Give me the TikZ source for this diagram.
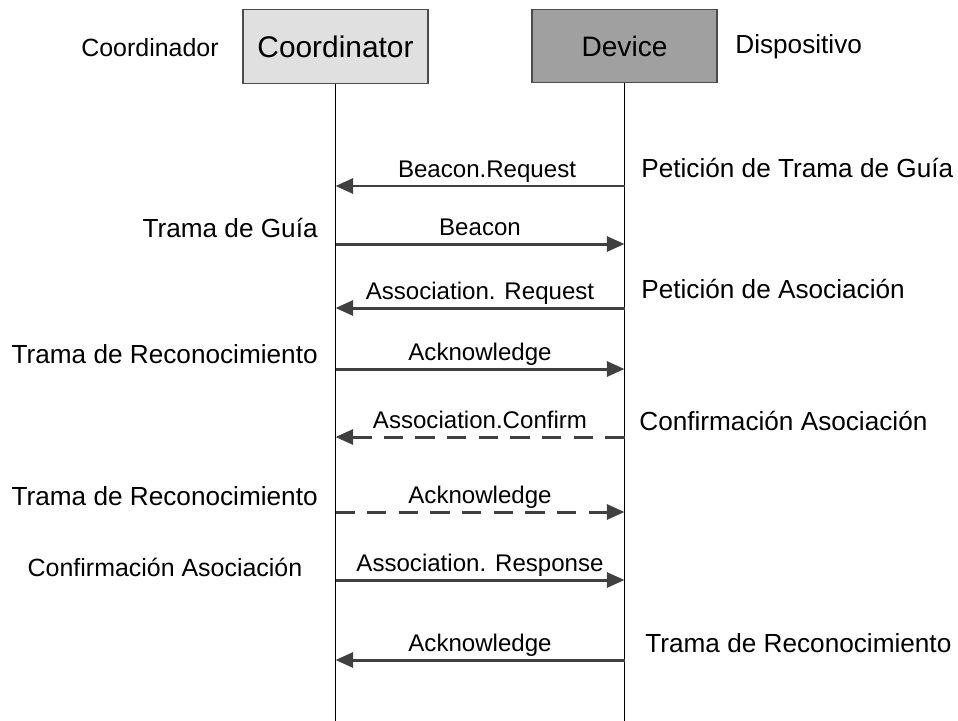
\documentclass[tikz,border=0pt]{standalone}
\usepackage{fontspec}
\setmainfont{Liberation Sans}
\usetikzlibrary{arrows.meta}

\definecolor{lightbox}{HTML}{E0E0E0}
\definecolor{darkbox}{HTML}{A0A0A0}
\definecolor{msgcol}{HTML}{404040}

\begin{document}
\begin{tikzpicture}[x=0.02cm, y=-0.02cm,
    actor/.style={draw=black!70, line width=0.8pt, minimum width=3.7cm, minimum height=1.47cm, inner sep=0pt},
    life/.style={line width=1.1pt},
    msg/.style={draw=msgcol, line width=1.7pt, -{Triangle[length=10pt, width=8.5pt]}},
    lost/.style={msg, dash pattern=on 11pt off 7pt},
    msglabel/.style={midway, anchor=base, yshift=5pt, font=\fontsize{13.7}{16}\selectfont},
    side/.style={font=\fontsize{14.9}{17}\selectfont, inner sep=0pt}]
    \useasboundingbox (0,0) rectangle (958,721);

    % Actors
    \node[actor, fill=lightbox, font=\fontsize{17}{20}\selectfont] (coord) at (335.5,46.5) {Coordinator};
    \node[actor, fill=darkbox, font=\fontsize{16}{19}\selectfont] (dev) at (624.5,46) {Device};
    \node[side, anchor=base east, font=\fontsize{14.2}{17}\selectfont] (coordes) at (219,56) {Coordinador};
    \node[side, anchor=base west] (deves) at (735,53) {Dispositivo};

    % Lifelines
    \coordinate (cend) at (335.5,721);
    \coordinate (dend) at (624.5,721);
    \draw[life] (coord.south) -- (cend);
    \draw[life] (dev.south) -- (dend);

    % Message ends
    \coordinate (c1) at (335.5,186); \coordinate (d1) at (624.5,186);
    \coordinate (c2) at (335.5,244); \coordinate (d2) at (624.5,244);
    \coordinate (c3) at (335.5,308); \coordinate (d3) at (624.5,308);
    \coordinate (c4) at (335.5,369); \coordinate (d4) at (624.5,369);
    \coordinate (c5) at (335.5,437); \coordinate (d5) at (624.5,437);
    \coordinate (c6) at (335.5,512); \coordinate (d6) at (624.5,512);
    \coordinate (c7) at (335.5,580); \coordinate (d7) at (624.5,580);
    \coordinate (c8) at (335.5,660); \coordinate (d8) at (624.5,660);

    % Messages
    \draw[msg] (d1) -- (c1) node[msglabel, xshift=4pt] (m1) {Beacon.Request};
    \draw[msg] (c2) -- (d2) node[msglabel] (m2) {Beacon};
    \draw[msg] (d3) -- (c3) node[msglabel] (m3) {Association. Request};
    \draw[msg] (c4) -- (d4) node[msglabel] (m4) {Acknowledge};
    \draw[lost] (d5) -- (c5) node[msglabel] (m5) {Association.Confirm};
    \draw[lost] (c6) -- (d6) node[msglabel] (m6) {Acknowledge};
    \draw[msg] (c7) -- (d7) node[msglabel] (m7) {Association. Response};
    \draw[msg] (d8) -- (c8) node[msglabel] (m8) {Acknowledge};

    % Left notes
    \node[side, anchor=base east] (l2) at (318,237) {Trama de Guía};
    \node[side, anchor=base east] (l4) at (318,363) {Trama de Reconocimiento};
    \node[side, anchor=base east] (l6) at (318,505) {Trama de Reconocimiento};
    \node[side, anchor=base, font=\fontsize{14.2}{17}\selectfont] (l7) at (165,576) {Confirmación Asociación};

    % Right notes
    \node[side, anchor=base west] (r1) at (641,177) {Petición de Trama de Guía};
    \node[side, anchor=base west] (r3) at (641,298) {Petición de Asociación};
    \node[side, anchor=base west] (r5) at (639,430) {Confirmación Asociación};
    \node[side, anchor=base west] (r8) at (645,652) {Trama de Reconocimiento};
\end{tikzpicture}
\end{document}
